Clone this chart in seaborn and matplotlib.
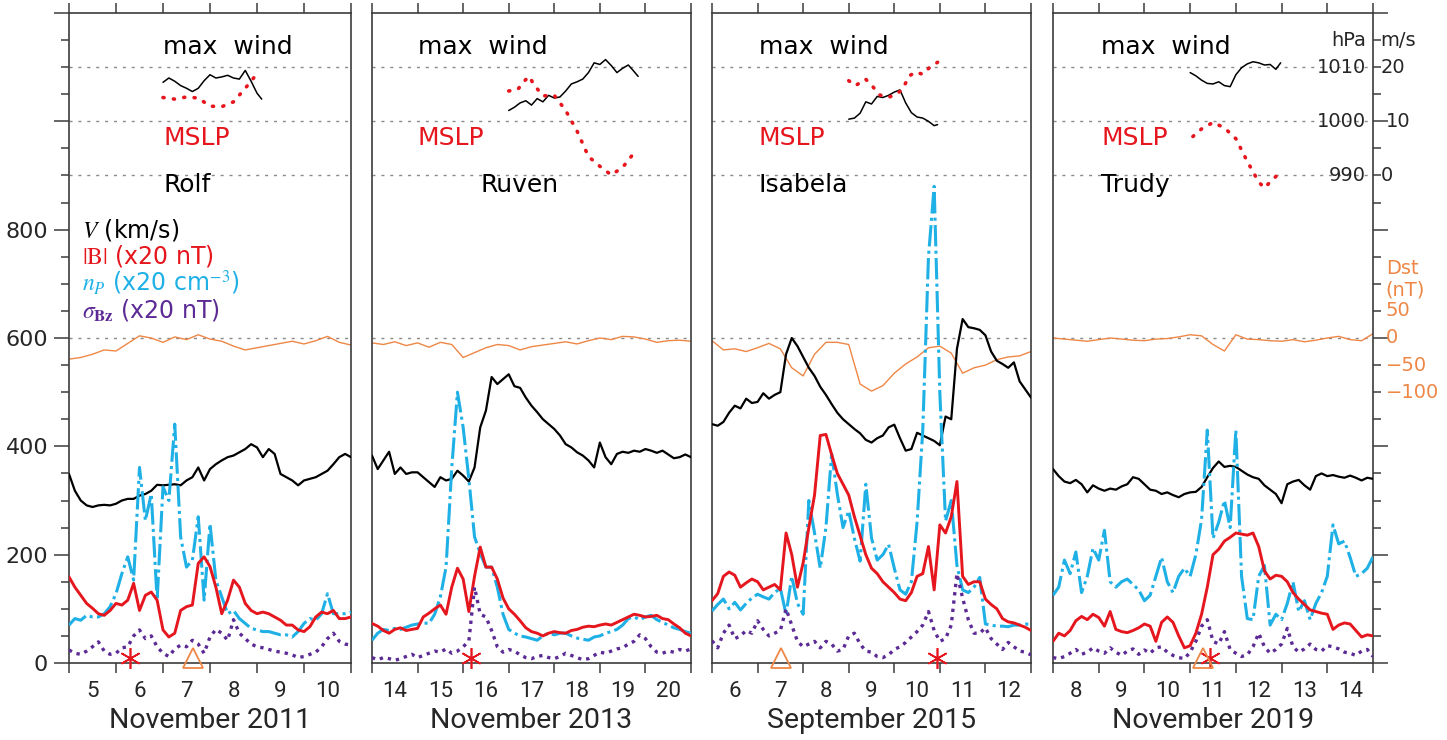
import numpy as np
import matplotlib
matplotlib.use("Agg")
import matplotlib.pyplot as plt
import seaborn as sns
from matplotlib.ticker import FixedLocator, FixedFormatter, NullFormatter
from matplotlib.transforms import blended_transform_factory

# ---------------- data ----------------
MONTHS = ["November 2011", "November 2013", "September 2015", "November 2019"]
STORMS = ["Rolf", "Ruven", "Isabela", "Trudy"]
FIRST_DAY = [5, 14, 6, 8]
N_DAYS = [6, 7, 7, 7]
STEP = 0.125      # 3-hourly solar-wind samples (days)
DST_STEP = 0.25   # 6-hourly Dst samples (days)

# Solar wind speed V (km/s)
V1 = [349,318,300,291,288,291,292,291,294,300,303,303,309,312,318,329,328,329,330,328,
      337,343,361,337,358,367,374,380,383,389,395,404,398,380,395,386,349,343,337,328,
      337,340,343,349,355,367,380,386,380]
V2 = [383,358,374,390,349,361,349,352,352,343,334,325,343,337,340,355,346,335,361,435,
      466,528,515,524,533,511,508,490,475,463,450,441,432,420,404,398,389,383,374,361,
      407,380,367,386,390,388,392,390,395,392,388,392,385,378,380,385,380]
V3 = [441,438,445,462,475,470,488,480,482,498,488,495,500,570,600,585,565,545,530,510,
      495,478,462,450,441,432,424,412,407,415,420,435,440,415,392,395,425,420,415,410,
      402,455,450,580,635,620,618,615,605,575,558,552,545,555,520,505,490]
V4 = [358,345,335,332,338,330,315,328,322,318,322,320,326,330,343,340,330,320,318,312,
      315,310,306,312,315,316,325,343,360,372,362,364,362,355,348,343,340,328,320,312,
      295,330,335,338,328,320,345,350,345,347,344,342,346,342,337,342,340]

# |B| (x20 nT)
B1 = [159,140,125,110,101,91,88,97,110,107,116,147,97,125,131,116,61,48,55,97,
      104,107,184,196,178,140,91,116,153,140,110,97,91,94,91,85,79,70,70,61,
      58,67,85,94,91,97,82,82,85]
B2 = [73,68,60,55,62,65,60,62,64,85,92,100,107,90,140,175,155,95,160,214,
      177,177,155,120,100,90,78,65,58,55,50,55,58,56,55,60,62,66,68,67,
      70,72,70,75,80,85,90,88,85,86,88,82,80,72,65,55,50]
B3 = [115,128,160,168,162,140,148,155,150,135,140,145,135,240,200,140,185,250,310,420,
      422,385,350,330,310,270,235,200,175,165,150,140,130,118,115,130,160,165,215,135,
      255,240,270,335,160,145,150,150,118,108,100,82,76,74,70,66,60]
B4 = [40,55,50,60,78,86,80,90,84,68,95,62,58,56,60,65,72,68,40,75,
      85,75,50,28,32,55,90,140,200,210,225,232,240,238,236,240,215,170,155,162,
      160,150,130,118,108,98,95,92,90,62,70,74,72,60,48,52,50]

# proton density n_p (x20 cm^-3)
N1 = [70,82,79,88,85,85,91,104,128,165,196,153,361,263,312,116,325,300,441,233,
      177,190,270,116,257,153,122,91,97,82,73,64,61,58,58,55,52,52,48,58,
      73,82,79,91,128,91,91,91,94]
N2 = [42,55,62,60,64,62,66,70,72,74,73,90,122,177,360,500,435,340,233,202,
      177,177,140,90,62,55,50,48,45,42,50,55,52,55,55,50,46,44,42,48,
      50,55,58,62,70,82,85,80,85,88,80,75,70,65,62,58,55]
N3 = [96,108,118,100,112,98,110,120,127,122,118,130,138,90,160,110,90,300,240,175,
      250,386,312,250,281,230,188,330,231,190,200,219,175,135,127,150,260,430,750,880,
      497,262,300,180,135,130,140,158,72,70,68,68,67,70,70,72,71]
N4 = [125,140,190,165,205,130,160,212,190,245,150,140,150,155,145,135,115,125,160,195,
      150,130,160,175,160,200,265,430,230,260,300,250,430,160,82,80,160,180,70,90,
      80,110,150,95,115,80,110,130,160,255,220,225,195,160,165,175,196]

# sigma_Bz (x20 nT)
S1 = [24,18,16,22,30,39,22,16,18,28,30,50,61,45,50,30,18,12,26,33,
      30,42,35,18,48,62,55,42,80,55,45,35,30,28,25,22,20,18,15,10,
      12,16,20,30,45,55,40,35,33]
S2 = [10,6,10,8,5,8,12,16,10,14,18,22,20,26,18,22,30,40,140,90,
      85,60,30,20,25,22,15,10,8,12,14,10,8,12,18,14,10,6,8,14,
      20,18,22,26,28,35,40,52,45,30,20,18,22,20,25,22,26]
S3 = [41,28,55,70,45,50,60,55,78,62,50,55,60,100,70,40,30,35,40,28,
      40,35,22,25,50,55,35,22,20,12,10,15,25,30,38,48,58,70,95,60,
      40,45,70,165,120,80,55,55,65,45,35,25,38,30,22,20,15]
S4 = [10,8,12,18,25,16,20,28,22,18,28,20,14,22,26,16,24,18,28,30,
      20,14,10,8,20,40,68,80,40,35,58,25,18,12,15,30,55,30,18,25,
      35,64,30,20,26,35,25,22,32,30,26,20,18,14,22,25,12]

# Dst (nT)
D1 = [-39,-36,-30,-22,-24,-10,4,0,-8,2,-3,6,-2,-6,-15,-22,-18,-14,-10,-6,-11,-5,3,-8,-13]
D2 = [-9,-12,-7,-14,-9,-17,-8,-12,-36,-27,-18,-12,-14,-22,-16,-13,-10,-7,-11,-5,0,-3,3,2,-2,-8,-5,-4,-6]
D3 = [-5,-22,-20,-25,-18,-10,-20,-55,-70,-30,-8,-8,-12,-85,-98,-88,-65,-48,-35,-18,-15,-28,-65,-55,-50,-40,-35,-33,-25]
D4 = [0,-2,-4,-6,-3,0,-2,-4,-5,-2,-1,2,6,4,-12,-24,6,-2,-3,-5,-6,-3,-7,-4,0,3,-3,-5,8]

# Tropical cyclone max wind (m/s) and MSLP (hPa)
W1_t = [7.0,7.125,7.25,7.375,7.5,7.625,7.75,7.875,8.0,8.125,8.25,8.375,8.5,8.625,8.75,8.875,9.0,9.1]
W1 = [17.2,18.0,17.4,16.6,16.1,15.5,16.1,17.5,18.6,18.0,18.2,18.5,18.0,17.8,19.4,17.4,15.2,14.1]
W2_t = [17.0,17.125,17.25,17.375,17.5,17.625,17.75,17.875,18.0,18.125,18.25,18.375,18.5,18.625,
        18.75,18.875,19.0,19.125,19.25,19.375,19.5,19.625,19.75,19.84]
W2 = [12.0,12.6,13.4,13.8,13.0,14.2,13.6,14.8,14.3,14.5,15.6,16.9,17.3,17.8,19.0,20.8,20.5,21.4,
      20.3,19.0,19.8,20.4,19.2,18.3]
W3_t = [9.0,9.125,9.25,9.375,9.5,9.625,9.75,9.875,10.0,10.125,10.25,10.375,10.5,10.625,10.75,10.875,10.95]
W3 = [10.4,10.6,11.5,13.6,13.2,14.6,14.4,14.8,15.4,15.8,13.4,11.6,10.8,10.6,10.0,9.2,9.4]
W4_t = [11.0,11.125,11.25,11.375,11.5,11.625,11.75,11.875,12.0,12.125,12.25,12.375,12.5,12.625,12.75,12.875,12.98]
W4 = [19.0,18.4,17.6,17.0,16.9,17.3,16.6,16.4,18.6,19.9,20.6,21.0,20.8,20.4,20.5,19.6,20.8]

P1_t = [7.0,7.25,7.5,7.75,8.0,8.25,8.5,8.75,9.04]
P1 = [1004.4,1004.1,1004.5,1004.3,1002.8,1002.7,1003.6,1006.1,1009.2]
P2_t = [17.0,17.2,17.35,17.45,17.55,17.75,18.0,18.25,18.5,18.75,19.0,19.25,19.5,19.81]
P2 = [1005.6,1005.9,1007.5,1008.3,1006.8,1004.7,1004.8,1002.0,998.2,993.5,991.7,990.1,991.5,994.8]
P3_t = [9.0,9.15,9.37,9.53,9.67,9.85,10.0,10.14,10.22,10.33,10.47,10.62,10.77,10.95]
P3 = [1007.5,1006.6,1007.8,1006.4,1004.9,1004.4,1004.8,1005.6,1006.6,1008.4,1009.1,1008.7,1009.9,1010.9]
P4_t = [11.06,11.25,11.5,11.75,12.0,12.25,12.5,12.625,12.75,12.91]
P4 = [997.2,998.6,999.8,998.8,996.8,992.6,988.8,987.7,988.8,990.1]

# event markers (day of month)
STAR_T = [[6.30], [16.18], [10.93], [11.44]]
TRI_T = [[7.63], [], [7.52], [11.28]]
MARK_LEVEL = 10

V = [V1, V2, V3, V4]
B = [B1, B2, B3, B4]
N = [N1, N2, N3, N4]
S = [S1, S2, S3, S4]
D = [D1, D2, D3, D4]
W = [(W1_t, W1), (W2_t, W2), (W3_t, W3), (W4_t, W4)]
P = [(P1_t, P1), (P2_t, P2), (P3_t, P3), (P4_t, P4)]

# ---------------- style ----------------
sns.set_theme(style="ticks")
plt.rcParams['font.family'] = ['DejaVu Sans']
plt.rcParams['mathtext.fontset'] = 'stix'

RED = '#e5161d'
CYAN = '#1fb0e6'
PURPLE = '#5b2a95'
ORANGE = '#ee8746'
GRIDC = '#8a8a8a'
SPINE = '#3c3c3c'

FW, FH = 1447, 740
LEFTS = [69, 372, 712, 1053]
RIGHTS = [351, 691, 1031, 1373]
TOP, BOT = 13, 663
TEXT_X = [7.0, 15.0, 7.03, 9.05]
NAME_X = [7.0, 16.37, 7.03, 9.05]

fig = plt.figure(figsize=(FW / 100, FH / 100), dpi=100)

def wind_to_axis(w):
    return [900 + 10 * x for x in w]

def p_to_axis(p):
    return [900 + 10 * (x - 990) for x in p]

for i in range(4):
    l, r = LEFTS[i], RIGHTS[i]
    ax = fig.add_axes([l / FW, (FH - BOT) / FH, (r - l) / FW, (BOT - TOP) / FH])
    d0, nd = FIRST_DAY[i], N_DAYS[i]
    ax.set_xlim(d0, d0 + nd)
    ax.set_ylim(0, 1200)

    for yv in (600, 900, 1000, 1100):
        ax.axhline(yv, color=GRIDC, lw=1.0, ls=(0, (2.2, 4.2)), zorder=1)

    t = d0 + np.arange(len(V[i])) * STEP
    tB = d0 + np.arange(len(B[i])) * STEP
    tN = d0 + np.arange(len(N[i])) * STEP
    tS = d0 + np.arange(len(S[i])) * STEP
    tD = d0 + np.arange(len(D[i])) * DST_STEP

    sns.lineplot(x=tD, y=[600 + v for v in D[i]], ax=ax, color=ORANGE, lw=1.0,
                 estimator=None, sort=False, legend=False, zorder=2)
    sns.lineplot(x=t, y=V[i], ax=ax, color='black', lw=1.6,
                 estimator=None, sort=False, legend=False, zorder=3)
    sns.lineplot(x=tN, y=N[i], ax=ax, color=CYAN, lw=2.2, ls=(0, (7, 1.4, 1.0, 1.4)),
                 estimator=None, sort=False, legend=False, zorder=4)
    sns.lineplot(x=tB, y=B[i], ax=ax, color=RED, lw=2.1,
                 estimator=None, sort=False, legend=False, zorder=5)
    sns.lineplot(x=tS, y=S[i], ax=ax, color=PURPLE, lw=2.4, ls=(0, (1.0, 1.5)),
                 estimator=None, sort=False, legend=False, zorder=6)

    wt, wv = W[i]
    sns.lineplot(x=wt, y=wind_to_axis(wv), ax=ax, color='black', lw=1.1,
                 estimator=None, sort=False, legend=False, zorder=5)
    pt, pv = P[i]
    sns.lineplot(x=pt, y=p_to_axis(pv), ax=ax, color=RED, lw=2.6, ls=(0, (0.3, 2.6)),
                 dash_capstyle='round', estimator=None, sort=False, legend=False, zorder=5)

    for st in STAR_T[i]:
        ax.plot([st], [MARK_LEVEL], marker=(6, 2, 0), ms=15, mew=1.2, color=RED,
                ls='none', zorder=8, clip_on=False)
    for tt in TRI_T[i]:
        ax.plot([tt], [MARK_LEVEL], marker='^', ms=15, mew=1.3, mfc='none', mec=ORANGE,
                ls='none', zorder=8, clip_on=False)

    # labels in upper part
    ax.text(TEXT_X[i], 1137, "max  wind", fontsize=18, color='black', va='center', ha='left')
    ax.text(TEXT_X[i], 969, "MSLP", fontsize=18, color=RED, va='center', ha='left')
    ax.text(NAME_X[i], 882, STORMS[i], fontsize=18, color='black', va='center', ha='left')

    # x axis: ticks at day boundaries, labels at day centres
    days = list(range(d0, d0 + nd + 1))
    ax.xaxis.set_major_locator(FixedLocator(days))
    ax.xaxis.set_major_formatter(NullFormatter())
    ax.xaxis.set_minor_locator(FixedLocator([d + 0.5 for d in days[:-1]]))
    ax.xaxis.set_minor_formatter(FixedFormatter([str(d) for d in days[:-1]]))
    ax.tick_params(axis='x', which='major', direction='out', length=7, width=1.1,
                   top=True, bottom=True, color=SPINE)
    ax.tick_params(axis='x', which='minor', length=0, pad=13, labelsize=16,
                   top=False, bottom=True)
    for lab in ax.xaxis.get_minorticklabels():
        lab.set_family(['Roboto', 'DejaVu Sans'])
    ax.text(0.5, -0.088, MONTHS[i], transform=ax.transAxes, ha='center', va='center',
            fontsize=20.5, family=['Roboto', 'DejaVu Sans'])
    ax.set_xlabel('')
    ax.set_ylabel('')

    # y axis
    ax.yaxis.set_major_locator(FixedLocator(list(range(0, 1201, 200))))
    ax.yaxis.set_minor_locator(FixedLocator(list(range(0, 1201, 50))))
    if i == 0:
        ax.yaxis.set_major_formatter(FixedFormatter(['0', '200', '400', '600', '800', '', '']))
        ax.tick_params(axis='y', which='major', left=True, right=False, direction='out',
                       length=11, width=1.1, labelsize=16, pad=4, color=SPINE)
        ax.tick_params(axis='y', which='minor', left=True, right=False, direction='out',
                       length=5.5, width=1.1, color=SPINE)
    elif i == 3:
        ax.yaxis.set_major_formatter(NullFormatter())
        ax.tick_params(axis='y', which='major', left=False, right=True, labelleft=False,
                       labelright=False, direction='out', length=11, width=1.1, color=SPINE)
        ax.tick_params(axis='y', which='minor', left=False, right=True, direction='out',
                       length=5.5, width=1.1, color=SPINE)
        tr = blended_transform_factory(ax.transAxes, ax.transData)
        for val, lab in ((1100, "1010"), (1000, "1000"), (900, "990")):
            ax.text(0.978, val, lab, transform=tr, ha='right', va='center', fontsize=14)
        ax.text(0.978, 1150, "hPa", transform=tr, ha='right', va='center', fontsize=14)
        ax.text(1.024, 1150, "m/s", transform=tr, ha='left', va='center', fontsize=14)
        for val, lab in ((1100, "20"), (900, "0")):
            ax.text(1.024, val, lab, transform=tr, ha='left', va='center', fontsize=14)
        ax.text(1.04, 1000, "10", transform=tr, ha='left', va='center', fontsize=14)
        ax.text(1.04, 728, "Dst", transform=tr, ha='left', va='center', fontsize=14, color=ORANGE)
        ax.text(1.04, 688, "(nT)", transform=tr, ha='left', va='center', fontsize=14, color=ORANGE)
        for val, lab in ((650, "50"), (600, "0"), (550, "\u221250"), (500, "\u2212100")):
            ax.text(1.04, val, lab, transform=tr, ha='left', va='center', fontsize=14, color=ORANGE)
    else:
        ax.tick_params(axis='y', which='both', left=False, right=False,
                       labelleft=False, labelright=False)

    for sp in ax.spines.values():
        sp.set_visible(True)
        sp.set_color(SPINE)
        sp.set_linewidth(1.2)

    if i == 0:
        tr = blended_transform_factory(ax.transAxes, ax.transData)
        legend_rows = [
            ("$V$ (km/s)", 'black', 786),
            ("$\\mathrm{|B|}$ (x20 nT)", RED, 737),
            ("$n_{P}$ (x20 cm$^{-3}$)", CYAN, 687),
            ("$\\sigma_{\\mathbf{Bz}}$ (x20 nT)", PURPLE, 637),
        ]
        for txt, col, yv in legend_rows:
            ax.text(0.045, yv, txt, transform=tr, color=col, fontsize=17,
                    ha='left', va='baseline')

fig.savefig("out.png", dpi=100, facecolor='white')
